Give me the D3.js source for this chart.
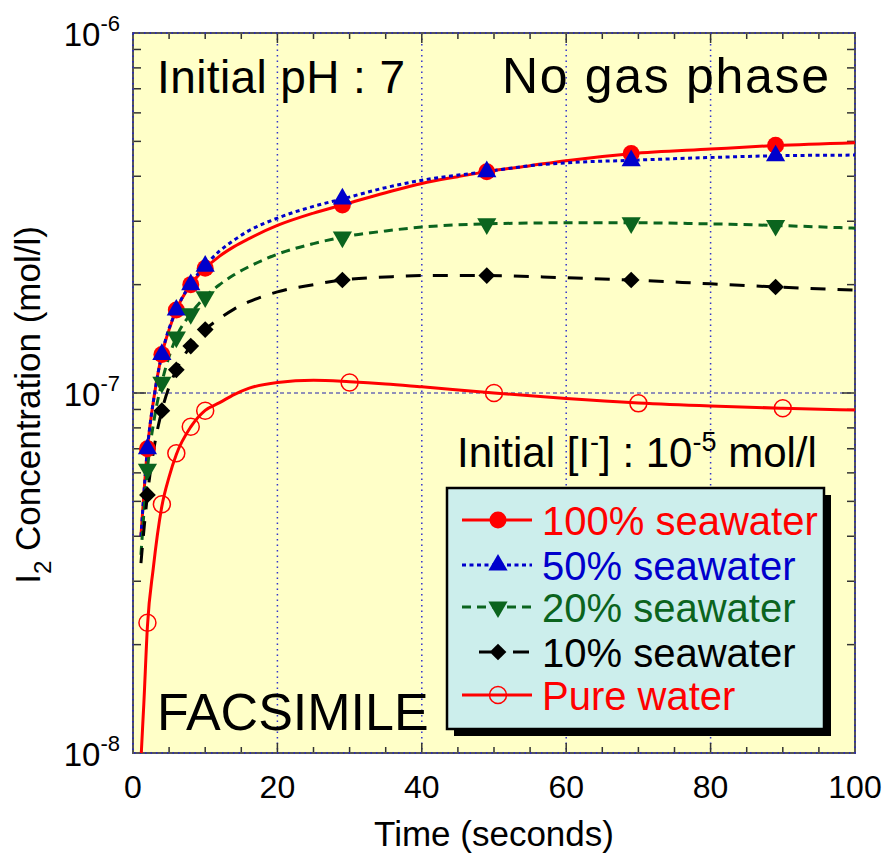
<!DOCTYPE html>
<html>
<head>
<meta charset="utf-8">
<script src="https://cdn.jsdelivr.net/npm/d3@7"></script>
<style>
  body { margin: 0; background: #fff; }
  text { font-family: "Liberation Sans", Arial, sans-serif; }
</style>
</head>
<body>
<div id="chart"></div>
<script>
// marker times (model output sampled for symbols)
var seaTimes = [2, 4, 6, 8, 10, 29, 49, 69, 89];
var pureTimes = [2, 4, 6, 8, 10, 30, 50, 70, 90];

var sea100Pts = [7.0e-8, 1.28e-7, 1.70e-7, 2.0e-7, 2.22e-7, 3.33e-7, 4.12e-7, 4.63e-7, 4.88e-7];
var sea50Pts  = [7.0e-8, 1.28e-7, 1.70e-7, 2.0e-7, 2.25e-7, 3.46e-7, 4.12e-7, 4.42e-7, 4.56e-7];
var sea20Pts  = [6.14e-8, 1.07e-7, 1.43e-7, 1.66e-7, 1.85e-7, 2.71e-7, 2.95e-7, 2.97e-7, 2.92e-7];
var sea10Pts  = [5.21e-8, 8.93e-8, 1.16e-7, 1.35e-7, 1.50e-7, 2.06e-7, 2.12e-7, 2.06e-7, 1.97e-7];
var purePts   = [2.30e-8, 4.91e-8, 6.8e-8, 8.06e-8, 8.93e-8, 1.07e-7, 1.0e-7, 9.36e-8, 9.07e-8];

// model curves [time, conc]
var curve100 = [[1.1,4.0e-8],[2,7.0e-8],[3,1.0e-7],[4,1.28e-7],[5,1.5e-7],[6,1.7e-7],[8,2.0e-7],[10,2.22e-7],
  [12,2.40e-7],[14,2.55e-7],[16,2.68e-7],[20,2.92e-7],[25,3.16e-7],[29,3.33e-7],[35,3.6e-7],[40,3.82e-7],
  [45,3.99e-7],[49,4.12e-7],[55,4.28e-7],[60,4.42e-7],[69,4.62e-7],[80,4.76e-7],[89,4.87e-7],[100,4.96e-7]];
var curve50 = [[1.1,4.0e-8],[2,7.0e-8],[3,1.0e-7],[4,1.28e-7],[6,1.7e-7],[8,2.01e-7],[10,2.26e-7],
  [12,2.48e-7],[14,2.66e-7],[16,2.82e-7],[20,3.06e-7],[25,3.3e-7],[29,3.46e-7],[35,3.72e-7],[40,3.9e-7],
  [49,4.12e-7],[55,4.28e-7],[60,4.36e-7],[69,4.43e-7],[80,4.51e-7],[89,4.56e-7],[100,4.58e-7]];
var curve20 = [[1.1,3.55e-8],[2,6.14e-8],[3,8.6e-8],[4,1.07e-7],[6,1.43e-7],[8,1.66e-7],[10,1.85e-7],
  [12,2.0e-7],[14,2.13e-7],[16,2.24e-7],[20,2.43e-7],[25,2.6e-7],[29,2.71e-7],[35,2.82e-7],[40,2.89e-7],
  [49,2.95e-7],[60,2.97e-7],[69,2.97e-7],[80,2.95e-7],[89,2.92e-7],[100,2.87e-7]];
var curve10 = [[1.1,3.37e-8],[2,5.21e-8],[3,7.2e-8],[4,8.93e-8],[6,1.16e-7],[8,1.35e-7],[10,1.5e-7],
  [12,1.61e-7],[14,1.71e-7],[16,1.79e-7],[20,1.91e-7],[25,2.0e-7],[29,2.06e-7],[35,2.1e-7],[40,2.12e-7],
  [49,2.12e-7],[60,2.09e-7],[69,2.06e-7],[80,2.01e-7],[89,1.97e-7],[100,1.93e-7]];
var curvePure = [[1.0,0.85e-8],[1.15,1.0e-8],[1.5,1.37e-8],[2,2.25e-8],[2.8,3.25e-8],[4,4.85e-8],[5,5.85e-8],
  [6,6.75e-8],[8,8.05e-8],[10,8.95e-8],[12,9.4e-8],[14,9.9e-8],[16,1.03e-7],[20,1.07e-7],[25,1.085e-7],
  [30,1.075e-7],[35,1.06e-7],[40,1.04e-7],[50,1.0e-7],[60,9.65e-8],[70,9.38e-8],[80,9.2e-8],[90,9.07e-8],[100,8.97e-8]];

var xTicks = [0, 20, 40, 60, 80, 100];
var yTicks = [1e-8, 1e-7, 1e-6];
var yExp = ["-8", "-7", "-6"];

var series = [
  {name: "100% seawater", color: "#ff0000", dash: null, curve: curve100, times: seaTimes, pts: sea100Pts, sym: "circle"},
  {name: "50% seawater", color: "#0000cc", dash: "4,3.5", curve: curve50, times: seaTimes, pts: sea50Pts, sym: "triUp"},
  {name: "20% seawater", color: "#0b641e", dash: "9,6", curve: curve20, times: seaTimes, pts: sea20Pts, sym: "triDown"},
  {name: "10% seawater", color: "#000000", dash: "15,12", curve: curve10, times: seaTimes, pts: sea10Pts, sym: "diamond"},
  {name: "Pure water", color: "#ff0000", dash: null, curve: curvePure, times: pureTimes, pts: purePts, sym: "open"}
];

var margin = {top: 33, right: 31, bottom: 102, left: 133};
var W = 886, H = 855;
var width = W - margin.left - margin.right,
    height = H - margin.top - margin.bottom;

var svg = d3.select("#chart").append("svg")
    .attr("width", W)
    .attr("height", H);

var g = svg.append("g")
    .attr("transform", "translate(" + margin.left + "," + margin.top + ")");

var x = d3.scaleLinear().domain([0, 100]).range([0, width]);
var y = d3.scaleLog().domain([1e-8, 1e-6]).range([height, 0]);

g.append("rect")
    .attr("width", width)
    .attr("height", height)
    .attr("fill", "#ffffc8");

g.append("clipPath").attr("id", "clip")
  .append("rect").attr("width", width).attr("height", height);

// grid
g.selectAll(".vgrid")
    .data([20, 40, 60, 80])
  .enter().append("line")
    .attr("x1", function(d) { return x(d); })
    .attr("x2", function(d) { return x(d); })
    .attr("y1", 0).attr("y2", height)
    .attr("stroke", "#3333cc")
    .attr("stroke-width", 1.5)
    .attr("stroke-dasharray", "1.5,4");

g.append("line")
    .attr("x1", 0).attr("x2", width)
    .attr("y1", y(1e-7)).attr("y2", y(1e-7))
    .attr("stroke", "#2222aa")
    .attr("stroke-width", 1)
    .attr("stroke-dasharray", "4,3");

// ticks
var minorX = d3.range(0, 101, 5);
minorX.forEach(function(t) {
    var len = (t % 20 === 0) ? 10 : 6;
    g.append("line").attr("x1", x(t)).attr("x2", x(t)).attr("y1", height).attr("y2", height - len)
        .attr("stroke", "#333").attr("stroke-width", 1.5);
    g.append("line").attr("x1", x(t)).attr("x2", x(t)).attr("y1", 0).attr("y2", len)
        .attr("stroke", "#333").attr("stroke-width", 1.5);
});

var minorY = [];
[1e-8, 1e-7].forEach(function(dec) {
    for (var k = 1; k <= 9; k++) minorY.push(dec * k);
});
minorY.push(1e-6);
minorY.forEach(function(v, i) {
    var len = (i % 9 === 0) ? 13 : 8;
    g.append("line").attr("x1", 0).attr("x2", len).attr("y1", y(v)).attr("y2", y(v))
        .attr("stroke", "#333").attr("stroke-width", 1.5);
    g.append("line").attr("x1", width).attr("x2", width - len).attr("y1", y(v)).attr("y2", y(v))
        .attr("stroke", "#333").attr("stroke-width", 1.5);
});

// frame
g.append("rect")
    .attr("width", width)
    .attr("height", height)
    .attr("fill", "none")
    .attr("stroke", "#555")
    .attr("stroke-width", 2);
g.append("rect")
    .attr("width", width)
    .attr("height", height)
    .attr("fill", "none")
    .attr("stroke", "#2222cc")
    .attr("stroke-width", 1.5)
    .attr("stroke-dasharray", "1.5,4");

// tick labels
g.selectAll(".xlab")
    .data(xTicks)
  .enter().append("text")
    .attr("x", function(d) { return x(d); })
    .attr("y", height + 45)
    .attr("text-anchor", "middle")
    .attr("font-size", 32)
    .text(function(d) { return d; });

var ylab = g.selectAll(".ylab")
    .data(yTicks)
  .enter().append("text")
    .attr("x", -13)
    .attr("y", function(d) { return y(d) + 13; })
    .attr("text-anchor", "end")
    .attr("font-size", 33);
ylab.append("tspan").text("10");
ylab.append("tspan")
    .attr("dy", -15)
    .attr("font-size", 22)
    .text(function(d, i) { return yExp[i]; });

// axis titles
svg.append("text")
    .attr("x", margin.left + width / 2)
    .attr("y", 846)
    .attr("text-anchor", "middle")
    .attr("font-size", 35)
    .text("Time (seconds)");

var yt = svg.append("text")
    .attr("transform", "translate(40," + (margin.top + height / 2 + 12) + ") rotate(-90)")
    .attr("text-anchor", "middle")
    .attr("font-size", 35);
yt.append("tspan").text("I");
yt.append("tspan").attr("font-size", 24).attr("dy", 11).text("2");
yt.append("tspan").attr("dy", -11).text(" Concentration (mol/l)");

// curves
var line = d3.line()
    .x(function(d) { return x(d[0]); })
    .y(function(d) { return y(d[1]); })
    .curve(d3.curveMonotoneX);

var plot = g.append("g").attr("clip-path", "url(#clip)");

series.forEach(function(s) {
    plot.append("path")
        .datum(s.curve)
        .attr("fill", "none")
        .attr("stroke", s.color)
        .attr("stroke-width", 3)
        .attr("stroke-dasharray", s.dash)
        .attr("d", line);
});

function drawSymbol(sel, s, cx, cy) {
    if (s.sym === "circle") {
        sel.append("circle").attr("cx", cx).attr("cy", cy).attr("r", 8.5).attr("fill", s.color);
    } else if (s.sym === "open") {
        sel.append("circle").attr("cx", cx).attr("cy", cy).attr("r", 8.5)
            .attr("fill", "none").attr("stroke", s.color).attr("stroke-width", 1.5);
    } else if (s.sym === "triUp") {
        sel.append("path").attr("transform", "translate(" + cx + "," + cy + ")")
            .attr("d", d3.symbol().type(d3.symbolTriangle).size(160)()).attr("fill", s.color);
    } else if (s.sym === "triDown") {
        sel.append("path").attr("transform", "translate(" + cx + "," + cy + ") rotate(180)")
            .attr("d", d3.symbol().type(d3.symbolTriangle).size(160)()).attr("fill", s.color);
    } else if (s.sym === "diamond") {
        sel.append("path").attr("transform", "translate(" + cx + "," + cy + ") rotate(45)")
            .attr("d", d3.symbol().type(d3.symbolSquare).size(140)()).attr("fill", s.color);
    }
}

series.forEach(function(s) {
    s.pts.forEach(function(v, i) {
        drawSymbol(plot, s, x(s.times[i]), y(v));
    });
});

// annotations
g.append("text").attr("x", 24).attr("y", 60).attr("font-size", 46)
    .attr("textLength", 248).attr("lengthAdjust", "spacing").text("Initial pH : 7");
g.append("text").attr("x", width - 26 - 327).attr("y", 60)
    .attr("font-size", 50).attr("textLength", 327).attr("lengthAdjust", "spacing").text("No gas phase");

var ann = g.append("text").attr("x", 324).attr("y", 434).attr("font-size", 42);
ann.append("tspan").text("Initial [I");
ann.append("tspan").attr("dy", -16).attr("font-size", 27).text("-");
ann.append("tspan").attr("dy", 16).text("] : 10");
ann.append("tspan").attr("dy", -16).attr("font-size", 27).text("-5");
ann.append("tspan").attr("dy", 16).text(" mol/l");

g.append("text").attr("x", 24).attr("y", 697).attr("font-size", 52).text("FACSIMILE");

// legend
var lg = svg.append("g").attr("transform", "translate(447,488)");
lg.append("rect").attr("x", 7).attr("y", 7).attr("width", 377).attr("height", 241).attr("fill", "#000");
lg.append("rect").attr("width", 377).attr("height", 241)
    .attr("fill", "#cceeec").attr("stroke", "#000").attr("stroke-width", 2.5);

var rowY = [32, 77, 119, 164, 207];
series.forEach(function(s, i) {
    var row = lg.append("g").attr("transform", "translate(0," + rowY[i] + ")");
    var x1 = 15, x2 = 85;
    var dash = s.dash;
    if (s.sym === "diamond") { x1 = 32; x2 = 82; dash = "12,22,17"; }
    row.append("line").attr("x1", x1).attr("x2", x2).attr("y1", 0).attr("y2", 0)
        .attr("stroke", s.color).attr("stroke-width", 3).attr("stroke-dasharray", dash);
    drawSymbol(row, s, 51, 0);
    row.append("text").attr("x", 95).attr("y", 15).attr("font-size", 40)
        .attr("fill", s.color).text(s.name);
});
</script>
</body>
</html>
